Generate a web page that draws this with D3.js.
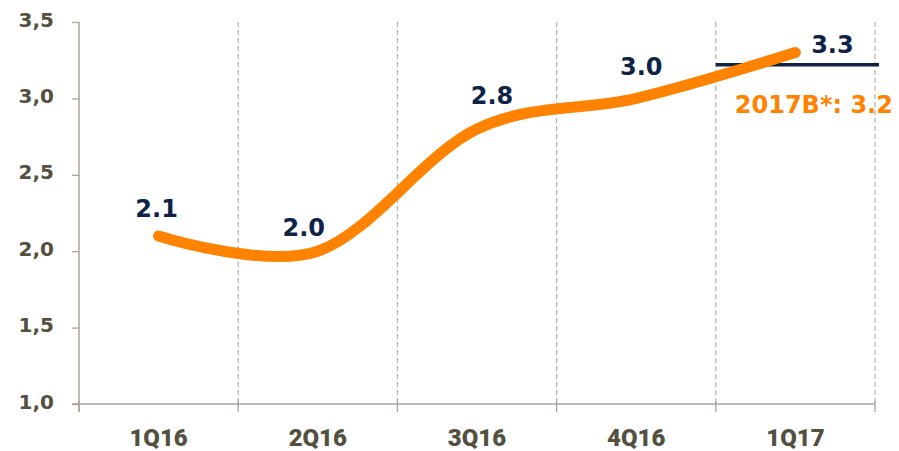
<!DOCTYPE html>
<html><head><meta charset="utf-8">
<script src="https://cdn.jsdelivr.net/npm/d3@7"></script>
<style>html,body{margin:0;padding:0;background:#fff;}svg{display:block;}</style>
</head><body>
<svg id="chart" width="899" height="451"></svg>
<script>
const categories = ["1Q16", "2Q16", "3Q16", "4Q16", "1Q17"];
const values = [2.1, 2.0, 2.8, 3.0, 3.3];
const valueLabels = ["2.1", "2.0", "2.8", "3.0", "3.3"];
const yTicks = [1.0, 1.5, 2.0, 2.5, 3.0, 3.5];
const budgetValue = 3.22;
const budgetLabel = "2017B*: 3.2";

// layout (not data)
const labelOffsets = [[-2,-19],[-14,-15],[15,-25],[5,-23],[37,0]];
const orange = "#FF8200", navy = "#0E2347", textCol = "#545040", axisCol = "#A8A39E";

const svg = d3.select("#chart");
const pLeft = 79, pRight = 875, pTop = 22, pBottom = 404;
const x = d3.scaleBand().domain(categories).range([pLeft, pRight]);
const y = d3.scaleLinear().domain([1, 3.5]).range([pBottom, pTop]);

// dashed gridlines at band boundaries
const bounds = categories.map(c => x(c) + x.bandwidth());
svg.append("g").selectAll("line").data(bounds).join("line")
  .attr("x1", d => d).attr("x2", d => d).attr("y1", pTop).attr("y2", pBottom)
  .attr("stroke", "#B5B0AB").attr("stroke-width", 1.2).attr("stroke-dasharray", "5,3");

// x axis line and ticks
svg.append("line").attr("x1", 72).attr("x2", pRight).attr("y1", pBottom).attr("y2", pBottom)
  .attr("stroke", axisCol).attr("stroke-width", 1.5);
svg.append("g").selectAll("line").data([pLeft].concat(bounds)).join("line")
  .attr("x1", d => d).attr("x2", d => d).attr("y1", pBottom - 3).attr("y2", pBottom + 8)
  .attr("stroke", axisCol).attr("stroke-width", 1.3);

// y axis
const yAxis = d3.axisLeft(y).tickValues(yTicks).tickSize(7).tickPadding(18)
  .tickFormat(d => d3.format(".1f")(d).replace(".", ","));
const gy = svg.append("g").attr("transform", `translate(${pLeft},0)`).call(yAxis);
gy.select(".domain").remove();
gy.selectAll(".tick line").attr("stroke", axisCol).attr("stroke-width", 1.3);
gy.selectAll(".tick text").attr("fill", textCol)
  .style("font-family", "'DejaVu Sans', sans-serif").style("font-weight", "bold").style("font-size", "20px")
  .attr("dy", "0.2em");
svg.append("line").attr("x1", pLeft).attr("x2", pLeft).attr("y1", pTop).attr("y2", pBottom + 8)
  .attr("stroke", axisCol).attr("stroke-width", 1.5);

// x labels
svg.append("g").selectAll("text").data(categories).join("text")
  .attr("x", d => x(d) + x.bandwidth() / 2).attr("y", 446)
  .attr("text-anchor", "middle").attr("fill", textCol)
  .style("font-family", "Roboto, sans-serif").style("font-weight", "900").style("font-size", "24px")
  .text(d => d);

// budget line
svg.append("line").attr("x1", x("1Q17")).attr("x2", x("1Q17") + x.bandwidth() + 4)
  .attr("y1", y(budgetValue)).attr("y2", y(budgetValue))
  .attr("stroke", navy).attr("stroke-width", 3.5);

// main smoothed line
const pts = categories.map((c, i) => [x(c) + x.bandwidth() / 2, y(values[i])]);
svg.append("path").datum(pts)
  .attr("d", d3.line().curve(d3.curveCardinal.tension(0)))
  .attr("fill", "none").attr("stroke", orange).attr("stroke-width", 11)
  .attr("stroke-linecap", "round").attr("stroke-linejoin", "round");

// data labels
svg.append("g").selectAll("text").data(valueLabels).join("text")
  .attr("x", (d, i) => pts[i][0] + labelOffsets[i][0])
  .attr("y", (d, i) => pts[i][1] + labelOffsets[i][1])
  .attr("text-anchor", "middle").attr("fill", navy)
  .style("font-family", "'DejaVu Sans', sans-serif").style("font-weight", "bold").style("font-size", "24px")
  .text(d => d);

// budget label
svg.append("text").attr("x", x("1Q17") + 19).attr("y", 113)
  .attr("fill", orange)
  .style("font-family", "'DejaVu Sans', sans-serif").style("font-weight", "bold").style("font-size", "24px")
  .text(budgetLabel);
</script>
</body></html>
